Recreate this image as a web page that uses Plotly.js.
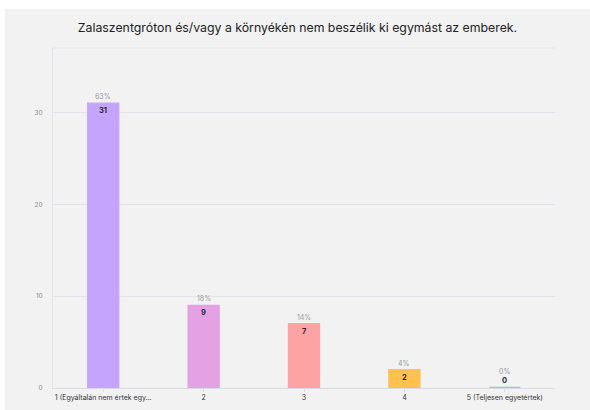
<!DOCTYPE html>
<html>
<head>
<meta charset="utf-8">
<script src="https://cdn.plot.ly/plotly-3.0.1.min.js"></script>
<style>
html,body{margin:0;padding:0;background:#ffffff;}
#chart{position:absolute;left:5px;top:9px;width:585px;height:401px;}
</style>
</head>
<body>
<div id="chart"></div>
<script>
const categories = ["1 (Egyáltalán nem értek egy...", "2", "3", "4", "5 (Teljesen egyetértek)"];
const values = [31, 9, 7, 2, 0];
const colors = ["#c4a4fc", "#e4a1e4", "#fea3a3", "#fec150", "#7ddca0"];
const yTicks = [0, 10, 20, 30];

const total = values.reduce((a, b) => a + b, 0);
const percents = values.map(v => Math.round(v / total * 100) + "%");

const barTrace = {
  type: "bar",
  x: categories,
  y: values,
  width: 0.31,
  marker: {color: colors, line: {color: colors, width: values.map(v => v === 0 ? 2.5 : 1.2)}},
  hoverinfo: "none"
};

const annotations = [];
categories.forEach((c, i) => {
  const zero = values[i] === 0;
  annotations.push({
    x: i, y: values[i], xref: "x", yref: "y",
    text: percents[i], showarrow: false, borderpad: 0,
    yanchor: "bottom", yshift: zero ? 11 : 1,
    font: {family: "Inter, Lato, sans-serif", size: 7, color: "#9a9aa6"}
  });
  annotations.push({
    x: i, y: values[i], xref: "x", yref: "y",
    text: "<b>" + values[i] + "</b>", showarrow: false, borderpad: 0,
    yanchor: zero ? "bottom" : "top", yshift: zero ? 2 : -2,
    font: {family: "Inter, Lato, sans-serif", size: 7.5, color: "#2a2a33"}
  });
});

const layout = {
  width: 585, height: 401,
  paper_bgcolor: "#f2f2f2",
  plot_bgcolor: "#f2f2f2",
  margin: {l: 48, r: 35, t: 39, b: 22},
  title: {
    text: "Zalaszentgróton és/vagy a környékén nem beszélik ki egymást az emberek.",
    font: {family: "Inter, Lato, sans-serif", size: 12.3, color: "#222222"},
    x: 0.5, xanchor: "center", y: 1 - 19/401, yanchor: "middle"
  },
  xaxis: {
    type: "category",
    showgrid: false,
    showline: true, linecolor: "#dcdce8", linewidth: 1,
    ticks: "outside", ticklen: 3, tickcolor: "#dcdce8",
    tickfont: {family: "Inter, Lato, sans-serif", size: 7, color: "#333333"},
    fixedrange: true
  },
  yaxis: {
    range: [0, 37],
    tickvals: yTicks,
    showgrid: true, gridcolor: "#e3e3ec", gridwidth: 1,
    showline: true, linecolor: "#e3e3ec",
    zeroline: false,
    ticks: "", ticklabelstandoff: 8,
    tickfont: {family: "Inter, Lato, sans-serif", size: 6.5, color: "#8a8a95"},
    fixedrange: true
  },
  shapes: [{type: "line", xref: "paper", yref: "paper", x0: 0, x1: 1, y0: 1, y1: 1,
            line: {color: "#e6e6ee", width: 1}}],
  annotations: annotations,
  showlegend: false
};

Plotly.newPlot("chart", [barTrace], layout, {displayModeBar: false, staticPlot: true});
</script>
</body>
</html>
